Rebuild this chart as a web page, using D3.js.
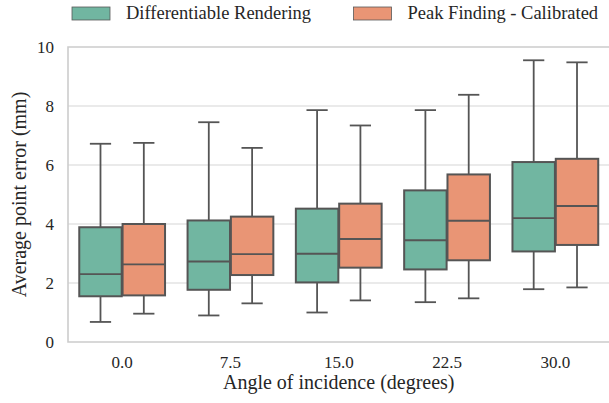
<!DOCTYPE html>
<html>
<head>
<meta charset="utf-8">
<script src="https://cdn.jsdelivr.net/npm/d3@7"></script>
<style>
  body { margin: 0; background: white; }
  svg text { font-family: "Liberation Serif", "DejaVu Serif", serif; fill: #262626; }
</style>
</head>
<body>
<div id="chart"></div>
<script>
// categorias del eje x
var angulos = ["0.0", "7.5", "15.0", "22.5", "30.0"];
var series = ["Differentiable Rendering", "Peak Finding - Calibrated"];
var colores = ["#71b6a1", "#e99575"];

// [bigote inferior, Q1, mediana, Q3, bigote superior] por angulo
var diferenciable = [
    [0.68, 1.55, 2.30, 3.89, 6.72],
    [0.90, 1.77, 2.73, 4.12, 7.45],
    [1.00, 2.02, 2.99, 4.52, 7.86],
    [1.35, 2.46, 3.45, 5.14, 7.86],
    [1.79, 3.07, 4.20, 6.10, 9.55]
];
var picos = [
    [0.96, 1.58, 2.63, 4.00, 6.75],
    [1.31, 2.27, 2.98, 4.25, 6.58],
    [1.41, 2.52, 3.49, 4.69, 7.34],
    [1.48, 2.77, 4.11, 5.68, 8.38],
    [1.85, 3.29, 4.61, 6.21, 9.48]
];
var ticks_y = [0, 2, 4, 6, 8, 10];

var W = 609, H = 403;
var margin = {top: 47, right: 0, bottom: 61, left: 68};
var width = W - margin.left - margin.right + 0.5;
var height = H - margin.top - margin.bottom;

var svg = d3.select("#chart").append("svg")
    .attr("width", W)
    .attr("height", H);

var g = svg.append("g")
    .attr("transform", "translate(" + margin.left + "," + margin.top + ")");

var x = d3.scaleBand().domain(angulos).range([0, width]);
var xSub = d3.scaleBand().domain(series).range([x.bandwidth() * 0.1, x.bandwidth() * 0.9]);
var y = d3.scaleLinear().domain([0, 10]).range([height, 0]);

// rejilla
g.selectAll(".grid").data(ticks_y.slice(1, -1)).enter().append("line")
    .attr("class", "grid")
    .attr("x1", 0).attr("x2", width)
    .attr("y1", d => y(d)).attr("y2", d => y(d))
    .attr("stroke", "#d5d5d5").attr("stroke-width", 1.1);

// bordes (izquierda, arriba, abajo)
g.append("path")
    .attr("d", "M" + width + "," + y(10) + "H0V" + y(0) + "H" + width)
    .attr("fill", "none")
    .attr("stroke", "#cccccc")
    .attr("stroke-width", 1.6);

// eje y
var yAxis = d3.axisLeft(y).tickValues(ticks_y).tickSize(0).tickPadding(14);
var yAxisG = g.append("g").call(yAxis);
yAxisG.select(".domain").remove();
yAxisG.selectAll("text").style("font-size", "17px").attr("dy", "0.34em");

// eje x
var xAxis = d3.axisBottom(x).tickSize(0).tickPadding(14);
var xAxisG = g.append("g").attr("transform", "translate(0," + height + ")").call(xAxis);
xAxisG.select(".domain").remove();
xAxisG.selectAll("text").style("font-size", "17px");

// cajas
var datos = [diferenciable, picos];
var lineColor = "#555555";
datos.forEach(function(serie, s) {
    var grupo = g.selectAll(".box" + s).data(serie).enter().append("g")
        .attr("class", "box" + s)
        .attr("transform", (d, i) => "translate(" + (x(angulos[i]) + xSub(series[s])) + ",0)");
    var bw = xSub.bandwidth();
    var bx = bw * 0.01, bwi = bw * 0.98;
    var cx = bw / 2;
    // bigotes
    grupo.append("line")
        .attr("x1", cx).attr("x2", cx)
        .attr("y1", d => y(d[0])).attr("y2", d => y(d[1]))
        .attr("stroke", lineColor).attr("stroke-width", 1.8);
    grupo.append("line")
        .attr("x1", cx).attr("x2", cx)
        .attr("y1", d => y(d[3])).attr("y2", d => y(d[4]))
        .attr("stroke", lineColor).attr("stroke-width", 1.8);
    grupo.append("line")
        .attr("x1", cx - bwi / 4).attr("x2", cx + bwi / 4)
        .attr("y1", d => y(d[0])).attr("y2", d => y(d[0]))
        .attr("stroke", lineColor).attr("stroke-width", 1.8);
    grupo.append("line")
        .attr("x1", cx - bwi / 4).attr("x2", cx + bwi / 4)
        .attr("y1", d => y(d[4])).attr("y2", d => y(d[4]))
        .attr("stroke", lineColor).attr("stroke-width", 1.8);
    // caja
    grupo.append("rect")
        .attr("x", bx).attr("width", bwi)
        .attr("y", d => y(d[3]))
        .attr("height", d => y(d[1]) - y(d[3]))
        .attr("fill", colores[s])
        .attr("stroke", lineColor).attr("stroke-width", 2);
    // mediana
    grupo.append("line")
        .attr("x1", bx).attr("x2", bx + bwi)
        .attr("y1", d => y(d[2])).attr("y2", d => y(d[2]))
        .attr("stroke", lineColor).attr("stroke-width", 1.9);
});

// etiquetas de los ejes
svg.append("text")
    .attr("x", margin.left + width / 2)
    .attr("y", 389)
    .attr("text-anchor", "middle")
    .style("font-size", "20px")
    .text("Angle of incidence (degrees)");

svg.append("text")
    .attr("transform", "rotate(-90)")
    .attr("x", -(margin.top + height / 2))
    .attr("y", 26)
    .attr("text-anchor", "middle")
    .style("font-size", "20px")
    .text("Average point error (mm)");

// leyenda
var legendX = [72, 353.5];
var legend = svg.selectAll(".legend").data(series).enter().append("g")
    .attr("class", "legend")
    .attr("transform", (d, i) => "translate(" + legendX[i] + ",7)");
legend.append("rect")
    .attr("width", 38).attr("height", 13)
    .attr("fill", (d, i) => colores[i])
    .attr("stroke", "#595959").attr("stroke-width", 0.8);
legend.append("text")
    .attr("x", 54).attr("y", 12)
    .style("font-size", "18.5px")
    .text(d => d);
</script>
</body>
</html>
